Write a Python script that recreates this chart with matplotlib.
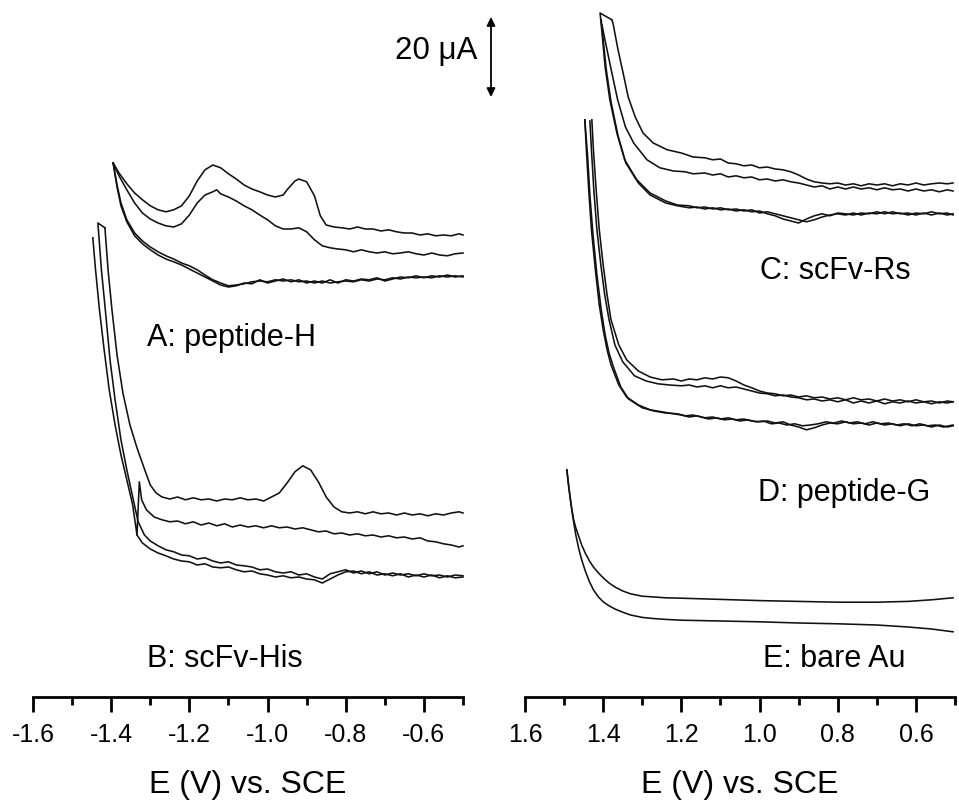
import matplotlib
matplotlib.use("Agg")
import matplotlib.pyplot as plt
from matplotlib.ticker import MultipleLocator, FormatStrFormatter
from matplotlib.patches import FancyArrowPatch

plt.rcParams['font.family'] = ['Liberation Sans', 'DejaVu Sans']
plt.rcParams['axes.unicode_minus'] = False

# ---------------- data: potential (V vs SCE) and offset current (uA) ----------------
# Panel left: A (peptide-H) and B (scFv-His)
E_A1 = [-1.395, -1.38, -1.36, -1.34, -1.32, -1.30, -1.28, -1.26, -1.24, -1.22, -1.20, -1.18, -1.16, -1.14, -1.12, -1.10,
        -1.08, -1.06, -1.04, -1.02, -1.00, -0.98, -0.96, -0.95, -0.93, -0.92, -0.90, -0.88, -0.865, -0.85, -0.83, -0.81,
        -0.79, -0.77, -0.75, -0.73, -0.71, -0.69, -0.67, -0.65, -0.63, -0.61, -0.59, -0.57, -0.55, -0.53, -0.51, -0.50]
I_A1 = [133.5, 131.0, 128.3, 126.0, 124.3, 122.8, 121.8, 121.3, 121.8, 122.8, 125.3, 129.0, 131.8, 133.0, 132.3, 130.8,
        129.5, 128.0, 127.0, 126.3, 125.5, 125.0, 125.5, 126.8, 129.0, 129.5, 128.8, 125.3, 120.3, 118.0, 117.5, 117.3,
        117.0, 117.5, 117.0, 117.0, 116.5, 116.8, 116.3, 116.0, 116.0, 115.5, 115.8, 115.3, 115.5, 115.3, 115.8, 115.5]

E_A2 = [-1.395, -1.38, -1.36, -1.34, -1.32, -1.30, -1.28, -1.26, -1.24, -1.22, -1.20, -1.18, -1.16, -1.14, -1.13, -1.12,
        -1.10, -1.08, -1.06, -1.04, -1.02, -1.00, -0.98, -0.96, -0.94, -0.92, -0.90, -0.88, -0.86, -0.84, -0.82, -0.80,
        -0.78, -0.76, -0.74, -0.72, -0.70, -0.68, -0.66, -0.64, -0.62, -0.60, -0.58, -0.56, -0.54, -0.52, -0.50]
I_A2 = [133.5, 130.3, 126.8, 123.5, 121.0, 119.5, 118.5, 117.8, 117.5, 118.3, 120.5, 123.5, 125.5, 126.3, 126.8, 125.8,
        125.0, 124.0, 122.8, 121.8, 120.5, 119.3, 117.8, 117.0, 117.0, 117.3, 116.3, 114.3, 112.8, 112.3, 112.0, 111.8,
        111.3, 111.8, 111.3, 111.0, 111.3, 110.8, 111.0, 111.3, 110.8, 110.5, 111.0, 110.5, 110.3, 110.8, 111.0]

E_A3 = [-1.395, -1.385, -1.375, -1.36, -1.34, -1.32, -1.30, -1.28, -1.26, -1.24, -1.22, -1.20, -1.18, -1.16, -1.14, -1.12,
        -1.10, -1.08, -1.06, -1.04, -1.02, -1.00, -0.98, -0.96, -0.94, -0.92, -0.90, -0.88, -0.86, -0.84, -0.82, -0.80,
        -0.78, -0.76, -0.74, -0.72, -0.70, -0.68, -0.66, -0.64, -0.62, -0.60, -0.58, -0.56, -0.54, -0.52, -0.50]
I_A3 = [133.5, 128.0, 123.5, 119.3, 116.0, 114.0, 112.5, 111.3, 110.3, 109.5, 108.5, 107.8, 106.8, 105.5, 104.3, 103.5,
        102.8, 103.0, 103.3, 103.8, 104.0, 103.8, 104.3, 104.0, 104.3, 103.8, 104.0, 103.5, 104.0, 103.5, 103.8, 104.0,
        103.8, 104.3, 104.0, 104.5, 104.3, 104.8, 104.5, 105.0, 104.8, 105.0, 104.8, 105.3, 105.0, 105.3, 105.0]
I_A4 = [133.5, 127.5, 122.8, 118.8, 115.3, 113.3, 111.8, 110.5, 109.5, 108.8, 108.0, 107.0, 106.0, 105.0, 104.0, 103.0,
        102.5, 102.8, 103.5, 103.3, 104.3, 103.5, 104.0, 104.5, 103.8, 104.3, 103.5, 104.0, 103.5, 104.3, 103.5, 104.3,
        104.0, 104.5, 104.3, 104.8, 104.0, 104.5, 105.0, 104.8, 105.3, 104.8, 105.3, 105.0, 105.5, 105.0, 105.3]

E_B1 = [-1.416, -1.408, -1.398, -1.385, -1.370, -1.352, -1.334, -1.316, -1.300, -1.285, -1.27, -1.25, -1.23, -1.21, -1.19,
        -1.17, -1.15, -1.13, -1.11, -1.09, -1.07, -1.05, -1.03, -1.01, -0.99, -0.97, -0.95, -0.93, -0.91, -0.89, -0.87,
        -0.85, -0.83, -0.81, -0.79, -0.77, -0.75, -0.73, -0.71, -0.69, -0.67, -0.65, -0.63, -0.61, -0.59, -0.57, -0.55,
        -0.53, -0.51, -0.50]
I_B1 = [117.3, 106.8, 96.8, 85.5, 76.0, 68.0, 62.3, 57.3, 53.0, 51.0, 50.0, 49.5, 50.0, 49.3, 49.8,
        49.3, 49.5, 49.0, 49.5, 49.3, 49.8, 49.3, 49.5, 49.0, 50.0, 51.0, 53.5, 56.3, 57.8, 56.8, 53.8,
        50.0, 47.5, 46.3, 46.0, 46.3, 45.8, 46.3, 45.8, 46.0, 45.5, 46.0, 45.5, 45.8, 45.3, 45.8, 45.5,
        46.0, 46.3, 46.0]

E_B2 = [-1.447, -1.44, -1.43, -1.418, -1.405, -1.39, -1.375, -1.36, -1.345, -1.334, -1.328, -1.322, -1.31, -1.29, -1.27,
        -1.25, -1.23, -1.21, -1.19, -1.17, -1.15, -1.13, -1.11, -1.09, -1.07, -1.05, -1.03, -1.01, -0.99, -0.97, -0.95,
        -0.93, -0.91, -0.89, -0.87, -0.85, -0.83, -0.81, -0.79, -0.77, -0.75, -0.73, -0.71, -0.69, -0.67, -0.65, -0.63,
        -0.61, -0.59, -0.57, -0.55, -0.53, -0.51, -0.50]
I_B2 = [114.8, 106.8, 96.8, 86.8, 76.8, 68.0, 60.5, 54.3, 48.0, 40.5, 53.8, 49.3, 46.8, 45.0, 44.3,
        43.8, 44.0, 43.3, 43.8, 43.0, 43.5, 42.8, 43.3, 42.5, 43.0, 42.5, 42.8, 42.3, 42.8, 42.3, 42.5,
        42.0, 42.3, 41.8, 41.3, 41.5, 40.8, 41.0, 40.5, 40.8, 40.3, 40.5, 40.0, 40.3, 39.8, 40.0, 39.5,
        39.8, 39.0, 38.8, 38.3, 38.0, 37.5, 37.8]

E_B3 = [-1.416, -1.434, -1.425, -1.415, -1.403, -1.39, -1.375, -1.36, -1.345, -1.331, -1.315, -1.30, -1.28, -1.26, -1.24,
        -1.22, -1.20, -1.18, -1.16, -1.14, -1.12, -1.10, -1.08, -1.06, -1.04, -1.02, -1.00, -0.98, -0.96, -0.94, -0.92,
        -0.90, -0.88, -0.86, -0.84, -0.82, -0.80, -0.78, -0.76, -0.74, -0.72, -0.70, -0.68, -0.66, -0.64, -0.62, -0.60,
        -0.58, -0.56, -0.54, -0.52, -0.50]
I_B3 = [117.3, 118.5, 106.8, 96.8, 84.3, 74.3, 64.3, 56.8, 50.0, 43.8, 40.5, 39.0, 37.8, 36.8, 36.3,
        35.5, 35.3, 34.5, 34.8, 34.0, 33.5, 33.8, 33.0, 32.8, 32.5, 31.8, 32.0, 31.3, 31.0, 31.3, 30.5,
        30.8, 30.0, 29.5, 30.8, 31.3, 31.8, 31.0, 31.5, 30.8, 31.3, 30.5, 31.0, 30.5, 30.8, 30.3, 30.8,
        30.3, 30.5, 30.0, 30.5, 30.3]

E_B4 = [-1.334, -1.32, -1.30, -1.28, -1.26, -1.24, -1.22, -1.20, -1.18, -1.16, -1.14, -1.12, -1.10, -1.08, -1.06,
        -1.04, -1.02, -1.00, -0.98, -0.96, -0.94, -0.92, -0.90, -0.88, -0.86, -0.84, -0.82, -0.80, -0.78, -0.76, -0.74,
        -0.72, -0.70, -0.68, -0.66, -0.64, -0.62, -0.60, -0.58, -0.56, -0.54, -0.52, -0.50]
I_B4 = [40.5, 38.5, 37.0, 36.0, 35.3, 34.5, 34.0, 33.8, 33.0, 33.3, 32.5, 32.3, 32.5, 31.8, 31.3,
        31.5, 30.8, 30.5, 30.0, 30.3, 29.8, 30.0, 29.5, 29.3, 28.5, 29.5, 30.5, 31.3, 31.5, 30.8, 31.3,
        30.5, 30.8, 30.3, 30.8, 30.0, 30.5, 30.0, 30.5, 29.8, 30.3, 29.8, 30.0]

# Panel right: C (scFv-Rs), D (peptide-G), E (bare Au)
E_C1 = [1.378, 1.375, 1.362, 1.349, 1.336, 1.318, 1.298, 1.272, 1.236, 1.20, 1.17, 1.14, 1.12, 1.10, 1.08, 1.06,
        1.04, 1.02, 1.00, 0.98, 0.96, 0.94, 0.92, 0.90, 0.88, 0.86, 0.84, 0.82, 0.80, 0.78, 0.76, 0.74,
        0.72, 0.70, 0.68, 0.66, 0.64, 0.62, 0.60, 0.58, 0.56, 0.54, 0.52, 0.505]
I_C1 = [169.3, 168.5, 161.8, 156.0, 150.0, 145.0, 141.0, 138.5, 136.8, 136.0, 135.0, 134.8, 134.3, 134.5, 133.5, 133.3,
        132.8, 133.0, 132.3, 132.5, 132.0, 131.8, 131.3, 130.5, 129.5, 128.8, 128.5, 128.3, 128.5, 128.0, 128.3, 127.8,
        128.3, 128.0, 128.3, 127.8, 128.3, 128.0, 128.5, 128.0, 128.3, 128.5, 128.3, 128.5]

E_C2 = [1.403, 1.399, 1.381, 1.363, 1.343, 1.322, 1.288, 1.255, 1.22, 1.19, 1.17, 1.14, 1.12, 1.10, 1.08, 1.06,
        1.04, 1.02, 1.00, 0.98, 0.96, 0.94, 0.92, 0.90, 0.88, 0.86, 0.84, 0.82, 0.80, 0.78, 0.76, 0.74,
        0.72, 0.70, 0.68, 0.66, 0.64, 0.62, 0.60, 0.58, 0.56, 0.54, 0.52, 0.505]
I_C2 = [168.0, 166.0, 157.5, 149.3, 142.5, 138.5, 134.3, 132.3, 131.5, 131.3, 130.8, 131.0, 130.5, 130.8, 130.0, 130.3,
        129.8, 130.0, 129.3, 129.5, 129.0, 129.3, 128.8, 128.5, 128.0, 127.5, 127.8, 127.0, 127.5, 127.0, 127.5, 127.0,
        127.3, 126.8, 127.3, 126.8, 127.0, 126.5, 127.0, 126.5, 126.8, 126.3, 126.8, 126.5]

E_C3 = [1.378, 1.408, 1.403, 1.395, 1.383, 1.365, 1.345, 1.314, 1.28, 1.24, 1.21, 1.18, 1.16, 1.14, 1.12, 1.10, 1.08,
        1.06, 1.04, 1.02, 1.00, 0.98, 0.96, 0.94, 0.92, 0.90, 0.88, 0.86, 0.84, 0.82, 0.80, 0.78, 0.76,
        0.74, 0.72, 0.70, 0.68, 0.66, 0.64, 0.62, 0.60, 0.58, 0.56, 0.54, 0.52, 0.505]
I_C3 = [169.3, 171.0, 166.0, 157.5, 149.3, 141.0, 134.3, 129.3, 126.0, 124.0, 123.0, 122.8, 122.3, 122.5, 122.0, 122.3, 121.8,
        122.0, 121.5, 121.8, 121.0, 121.3, 120.8, 120.3, 119.8, 119.3, 118.8, 119.3, 120.0, 120.5, 120.8, 120.5, 121.0,
        120.5, 121.0, 120.8, 121.3, 120.8, 121.0, 120.5, 121.0, 120.8, 121.3, 120.8, 121.0, 120.5]

E_C4 = [1.405, 1.400, 1.392, 1.380, 1.362, 1.342, 1.31, 1.28, 1.24, 1.21, 1.18, 1.16, 1.14, 1.12, 1.10, 1.08,
        1.06, 1.04, 1.02, 1.00, 0.98, 0.96, 0.94, 0.92, 0.90, 0.88, 0.86, 0.84, 0.82, 0.80, 0.78, 0.76,
        0.74, 0.72, 0.70, 0.68, 0.66, 0.64, 0.62, 0.60, 0.58, 0.56, 0.54, 0.52, 0.505]
I_C4 = [169.3, 164.3, 156.8, 148.8, 140.3, 133.5, 128.5, 125.5, 123.5, 122.8, 122.3, 122.5, 122.0, 122.3, 121.8, 122.0,
        121.5, 121.8, 121.3, 121.5, 120.8, 120.3, 119.5, 119.0, 118.5, 119.5, 120.3, 120.8, 120.3, 121.0, 120.8, 120.5,
        121.0, 120.8, 121.3, 120.8, 121.3, 120.8, 121.0, 120.5, 121.0, 120.5, 121.0, 120.5, 120.8]

E_D1 = [1.429, 1.425, 1.418, 1.41, 1.40, 1.39, 1.38, 1.36, 1.34, 1.31, 1.28, 1.25, 1.22, 1.20, 1.18, 1.16, 1.14,
        1.12, 1.10, 1.08, 1.06, 1.04, 1.02, 1.00, 0.98, 0.96, 0.94, 0.92, 0.90, 0.88, 0.86, 0.84, 0.82,
        0.80, 0.78, 0.76, 0.74, 0.72, 0.70, 0.68, 0.66, 0.64, 0.62, 0.60, 0.58, 0.56, 0.54, 0.52, 0.505]
I_D1 = [144.3, 136.8, 126.8, 116.8, 108.0, 100.5, 94.3, 88.0, 84.3, 81.5, 80.0, 79.3, 79.5, 79.0, 79.5, 79.3, 79.8,
        79.5, 80.0, 79.8, 79.0, 78.0, 77.3, 76.5, 76.0, 75.8, 75.3, 75.5, 75.0, 75.3, 74.8, 75.0, 74.5,
        74.8, 74.3, 74.8, 74.3, 74.5, 74.0, 74.5, 74.0, 74.3, 73.8, 74.3, 73.8, 74.0, 73.5, 74.0, 73.8]

E_D2 = [1.434, 1.43, 1.424, 1.416, 1.406, 1.396, 1.385, 1.37, 1.35, 1.32, 1.29, 1.26, 1.23, 1.20, 1.18, 1.16, 1.14,
        1.12, 1.10, 1.08, 1.06, 1.04, 1.02, 1.00, 0.98, 0.96, 0.94, 0.92, 0.90, 0.88, 0.86, 0.84, 0.82,
        0.80, 0.78, 0.76, 0.74, 0.72, 0.70, 0.68, 0.66, 0.64, 0.62, 0.60, 0.58, 0.56, 0.54, 0.52, 0.505]
I_D2 = [144.0, 136.8, 126.8, 116.8, 108.0, 100.5, 94.3, 88.0, 83.8, 80.3, 79.0, 78.3, 78.0, 77.8, 78.0, 77.5, 77.8,
        77.3, 77.8, 77.3, 77.5, 77.0, 76.5, 76.0, 75.8, 75.3, 75.5, 75.0, 74.8, 74.3, 74.5, 74.0, 74.3,
        73.8, 74.3, 73.5, 74.0, 73.5, 74.0, 73.3, 73.8, 73.5, 74.0, 73.5, 73.8, 73.3, 73.8, 73.5, 73.8]

E_D3 = [1.447, 1.443, 1.437, 1.43, 1.42, 1.41, 1.40, 1.39, 1.38, 1.36, 1.34, 1.31, 1.28, 1.25, 1.22, 1.20, 1.18,
        1.16, 1.14, 1.12, 1.10, 1.08, 1.06, 1.04, 1.02, 1.00, 0.98, 0.96, 0.94, 0.92, 0.90, 0.88, 0.86,
        0.84, 0.82, 0.80, 0.78, 0.76, 0.74, 0.72, 0.70, 0.68, 0.66, 0.64, 0.62, 0.60, 0.58, 0.56, 0.54, 0.52, 0.505]
I_D3 = [144.3, 136.8, 126.8, 116.8, 106.8, 98.0, 91.8, 86.8, 83.0, 78.0, 75.0, 73.0, 71.8, 71.3, 70.8, 70.5, 70.0,
        70.3, 69.8, 70.0, 69.5, 69.8, 69.3, 69.5, 69.0, 68.8, 69.0, 68.5, 68.8, 68.0, 67.5, 66.8, 67.3,
        68.0, 68.5, 68.3, 68.8, 68.3, 68.5, 68.0, 68.5, 68.0, 68.3, 67.8, 68.3, 67.8, 68.0, 67.5, 68.0, 67.5, 67.8]

E_D4 = [1.447, 1.440, 1.434, 1.426, 1.416, 1.405, 1.395, 1.385, 1.373, 1.355, 1.335, 1.30, 1.27, 1.24, 1.21, 1.19,
        1.17, 1.15, 1.13, 1.11, 1.09, 1.07, 1.05, 1.03, 1.01, 0.99, 0.97, 0.95, 0.93, 0.91, 0.89, 0.87,
        0.85, 0.83, 0.81, 0.79, 0.77, 0.75, 0.73, 0.71, 0.69, 0.67, 0.65, 0.63, 0.61, 0.59, 0.57, 0.55, 0.53, 0.505]
I_D4 = [144.3, 135.5, 125.5, 115.5, 105.5, 96.8, 90.5, 86.0, 82.3, 77.5, 74.5, 72.3, 71.5, 71.0, 70.8, 70.3,
        70.5, 70.0, 69.5, 69.8, 69.3, 69.5, 69.0, 69.3, 68.8, 69.0, 68.3, 68.5, 68.0, 68.3, 67.8, 68.0,
        68.3, 68.8, 68.5, 69.0, 68.5, 68.8, 68.3, 68.8, 68.3, 68.5, 68.0, 68.3, 67.8, 68.3, 67.8, 68.0, 67.5, 68.0]

E_E1 = [1.493, 1.488, 1.482, 1.476, 1.470, 1.463, 1.455, 1.445, 1.435, 1.425, 1.412, 1.400, 1.385, 1.370, 1.350,
        1.330, 1.300, 1.270, 1.240, 1.20, 1.10, 1.00, 0.90, 0.80, 0.70, 0.62, 0.56, 0.505]
I_E1 = [56.8, 52.5, 48.0, 44.5, 42.3, 40.3, 38.0, 35.8, 34.0, 32.5, 31.0, 29.8, 28.5, 27.5, 26.5,
        25.8, 25.2, 25.0, 24.8, 24.7, 24.4, 24.1, 23.9, 23.7, 23.7, 23.9, 24.3, 24.8]

E_E2 = [1.493, 1.488, 1.482, 1.476, 1.470, 1.463, 1.455, 1.445, 1.435, 1.425, 1.412, 1.400, 1.385, 1.370, 1.350,
        1.330, 1.300, 1.270, 1.240, 1.20, 1.10, 1.00, 0.90, 0.80, 0.70, 0.62, 0.56, 0.505]
I_E2 = [56.8, 52.5, 48.0, 44.0, 40.5, 37.3, 34.3, 31.3, 28.8, 26.8, 25.0, 23.8, 22.8, 22.0, 21.2,
        20.5, 19.9, 19.6, 19.4, 19.2, 19.0, 18.8, 18.5, 18.3, 18.0, 17.5, 17.0, 16.3]

left_traces = [(E_A1, I_A1), (E_A2, I_A2), (E_A3, I_A3), (E_A3, I_A4),
               (E_B1, I_B1), (E_B2, I_B2), (E_B3, I_B3), (E_B4, I_B4)]
right_traces = [(E_C1, I_C1), (E_C2, I_C2), (E_C3, I_C3), (E_C4, I_C4),
                (E_D1, I_D1), (E_D2, I_D2), (E_D3, I_D3), (E_D4, I_D4),
                (E_E1, I_E1), (E_E2, I_E2)]

left_ticks = [-1.6, -1.4, -1.2, -1.0, -0.8, -0.6]
right_ticks = [1.6, 1.4, 1.2, 1.0, 0.8, 0.6]
xlabel = "E (V) vs. SCE"
panel_labels = ["A: peptide-H", "B: scFv-His", "C: scFv-Rs", "D: peptide-G", "E: bare Au"]
scale_bar_uA = 20

# ---------------- figure ----------------
W, H = 959, 802
fig = plt.figure(figsize=(W / 100, H / 100), dpi=100)
ax_bottom_px = 697
YMAX = 174.25  # uA shown in panel height (4 px per uA)

def fx(px):
    return px / W

def fy(py):
    return 1 - py / H

axL = fig.add_axes([fx(33), fy(ax_bottom_px), 430 / W, ax_bottom_px / H])
axR = fig.add_axes([fx(525), fy(ax_bottom_px), 430 / W, ax_bottom_px / H])

for ax, traces in ((axL, left_traces), (axR, right_traces)):
    for e, i in traces:
        ax.plot(e, i, color='#111111', lw=1.15, clip_on=False)
    ax.set_ylim(0, YMAX)
    for s in ('left', 'right', 'top'):
        ax.spines[s].set_visible(False)
    ax.spines['bottom'].set_linewidth(2.0)
    ax.set_yticks([])
    ax.xaxis.set_minor_locator(MultipleLocator(0.1))
    ax.tick_params(axis='x', which='major', direction='out', length=10.5, width=2.0,
                   labelsize=18, pad=8)
    ax.tick_params(axis='x', which='minor', direction='out', length=5.5, width=2.0)
    ax.xaxis.set_major_formatter(FormatStrFormatter('%.1f'))
    ax.set_xlabel(xlabel, fontsize=23, labelpad=17)
    ax.patch.set_alpha(0)

axL.set_xlim(-1.6, -0.5)
axL.set_xticks(left_ticks)
axR.set_xlim(1.6, 0.5)
axR.set_xticks(right_ticks)

# panel labels (baseline positions)
lab_fs = 22
label_pos = [(147, 346), (147, 667), (760, 279), (758, 501), (763, 667)]
for txt, (px, py) in zip(panel_labels, label_pos):
    fig.text(fx(px), fy(py), txt, fontsize=lab_fs, va='baseline', ha='left')

# scale bar
fig.text(fx(395), fy(59), f"{scale_bar_uA} \u03bcA", fontsize=22.5, va='baseline', ha='left')
arr = FancyArrowPatch((fx(491), fy(17)), (fx(491), fy(97)), transform=fig.transFigure,
                      arrowstyle='<|-|>,head_length=5,head_width=2.5', color='black', lw=1.3,
                      shrinkA=0, shrinkB=0)
fig.add_artist(arr)

fig.savefig("out.png", dpi=100)
